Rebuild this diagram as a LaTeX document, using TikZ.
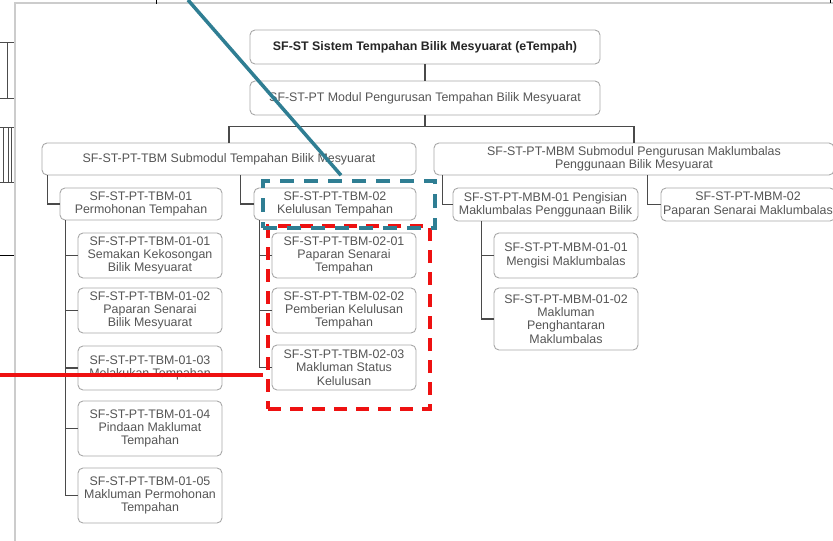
\documentclass[tikz,border=0pt]{standalone}
\usepackage{fontspec}
\setmainfont{Liberation Sans}
\usetikzlibrary{positioning}
\definecolor{boxline}{HTML}{A8A8A8}
\definecolor{txtgray}{HTML}{555555}
\definecolor{conngray}{HTML}{4A4A4A}
\definecolor{markteal}{HTML}{2F7E93}
\definecolor{markred}{HTML}{EE1111}

\begin{document}
\begin{tikzpicture}[x=1pt,y=-1pt,
  box/.style={draw=boxline,line width=0.9pt,rounded corners=5pt,fill=white,align=center,
    text=txtgray,font=\fontsize{12.4}{13.3}\selectfont,inner sep=1pt},
  conn/.style={draw=conngray,line width=1.1pt},
  redbox/.style={draw=markred,line width=3.5pt,dash pattern=on 13pt off 9pt,inner sep=0pt},
  tealbox/.style={draw=markteal,line width=3.5pt,dash pattern=on 14pt off 10pt,inner sep=0pt}]
  \useasboundingbox (0,0) rectangle (833,541);
  % page and what is left of the next page
  \draw[black!20,line width=2pt] (15,541) -- (15,3) -- (833,3);
  \draw[black!70,line width=0.8pt] (0,42) -| (7,98) -- (0,98) (7,42) -- (14,42) (7,98) -- (14,98);
  \draw[black!70,line width=0.8pt] (0,127) -- (14,127) (0,182) -- (14,182) (3,127) -- (3,182)
    (8,127) -- (8,182) (11,127) -- (11,182);
  \draw[black,line width=1pt] (0,255) -- (14,255) (156,0) -- (156,4) (830,0) -- (830,3);

  \node[box,minimum width=350pt,minimum height=34pt,text=black!85,font=\fontsize{12.4}{13.3}\selectfont\bfseries] (st) at (425,47) {SF-ST Sistem Tempahan Bilik Mesyuarat (eTempah)};
  \node[box,minimum width=350pt,minimum height=34pt] (pt) at (425,98) {SF-ST-PT Modul Pengurusan Tempahan Bilik Mesyuarat};
  \node[box,minimum width=374pt,minimum height=32pt] (tbm) at (229,159) {SF-ST-PT-TBM Submodul Tempahan Bilik Mesyuarat};
  \node[box,minimum width=400pt,minimum height=32pt] (mbm) at (634,159) {SF-ST-PT-MBM Submodul Pengurusan Maklumbalas\\Penggunaan Bilik Mesyuarat};

  \node[box,minimum width=162pt,minimum height=32pt] (t1) at (141,204) {SF-ST-PT-TBM-01\\Permohonan Tempahan};
  \node[box,minimum width=162pt,minimum height=32pt] (t2) at (335,204) {SF-ST-PT-TBM-02\\Kelulusan Tempahan};
  \node[box,minimum width=185pt,minimum height=33pt] (m1) at (545.5,204.5) {SF-ST-PT-MBM-01 Pengisian\\Maklumbalas Penggunaan Bilik};
  \node[box,minimum width=174pt,minimum height=33pt] (m2) at (748,204.5) {SF-ST-PT-MBM-02\\Paparan Senarai Maklumbalas};

  \node[box,minimum width=144pt,minimum height=45pt] (t11) at (150,255.5) {SF-ST-PT-TBM-01-01\\Semakan Kekosongan\\Bilik Mesyuarat};
  \node[box,minimum width=144pt,minimum height=45pt] (t12) at (150,310.5) {SF-ST-PT-TBM-01-02\\Paparan Senarai\\Bilik Mesyuarat};
  \node[box,minimum width=144pt,minimum height=44pt] (t13) at (150,368) {SF-ST-PT-TBM-01-03\\Melakukan Tempahan};
  \node[box,minimum width=144pt,minimum height=55pt] (t14) at (150,428.5) {SF-ST-PT-TBM-01-04\\Pindaan Maklumat\\Tempahan};
  \node[box,minimum width=144pt,minimum height=55pt] (t15) at (150,495.5) {SF-ST-PT-TBM-01-05\\Makluman Permohonan\\Tempahan};

  \node[box,minimum width=144pt,minimum height=45pt] (t21) at (344,255.5) {SF-ST-PT-TBM-02-01\\Paparan Senarai\\Tempahan};
  \node[box,minimum width=144pt,minimum height=45pt] (t22) at (344,310.5) {SF-ST-PT-TBM-02-02\\Pemberian Kelulusan\\Tempahan};
  \node[box,minimum width=144pt,minimum height=45pt] (t23) at (344,367.5) {SF-ST-PT-TBM-02-03\\Makluman Status\\Kelulusan};

  \node[box,minimum width=144pt,minimum height=45pt] (m11) at (566,255.5) {SF-ST-PT-MBM-01-01\\Mengisi Maklumbalas};
  \node[box,minimum width=144pt,minimum height=62pt] (m12) at (566,319) {SF-ST-PT-MBM-01-02\\Makluman\\Penghantaran\\Maklumbalas};

  % tree lines
  \draw[conn] (st) -- (pt);
  \draw[conn] (pt.south) -- ++(0,11) coordinate (bar) (bar) -| (tbm.north) (bar) -| (mbm.north);
  \draw[conn] ([xshift=6pt]tbm.south west) |- (t1) ([xshift=-13pt]t2.west |- tbm.south) |- (t2);
  \draw[conn] ([xshift=9pt]mbm.south west) |- (m1) ([xshift=-13pt]m2.west |- mbm.south) |- (m2);
  \draw[conn] ([xshift=6pt]t1.south west) coordinate (t1s) (t1s) |- (t11) (t1s) |- (t12)
    (t1s) |- (t13) (t1s) |- (t14) (t1s) |- (t15);
  \draw[conn] ([xshift=6pt]t2.south west) coordinate (t2s) (t2s) |- (t21) (t2s) |- (t22) (t2s) |- (t23);
  \draw[conn] ([xshift=29pt]m1.south west) coordinate (m1s) (m1s) |- (m11) (m1s) |- (m12);

  % marks
  \node[redbox,minimum width=162pt,minimum height=183pt] (selred) at (349,317.5) {};
  \node[tealbox,minimum width=172pt,minimum height=47pt] (selteal) at (349,204.5) {};
  \coordinate (redleft) at (0,375);
  \coordinate (tealtop) at (188,0);
  \draw[markred,line width=3.5pt] (redleft) -- ([xshift=-3pt]selred.west |- redleft);
  \draw[markteal,line width=3.5pt] (tealtop) -- ([xshift=-8pt,yshift=4pt]selteal.north);
\end{tikzpicture}
\end{document}
